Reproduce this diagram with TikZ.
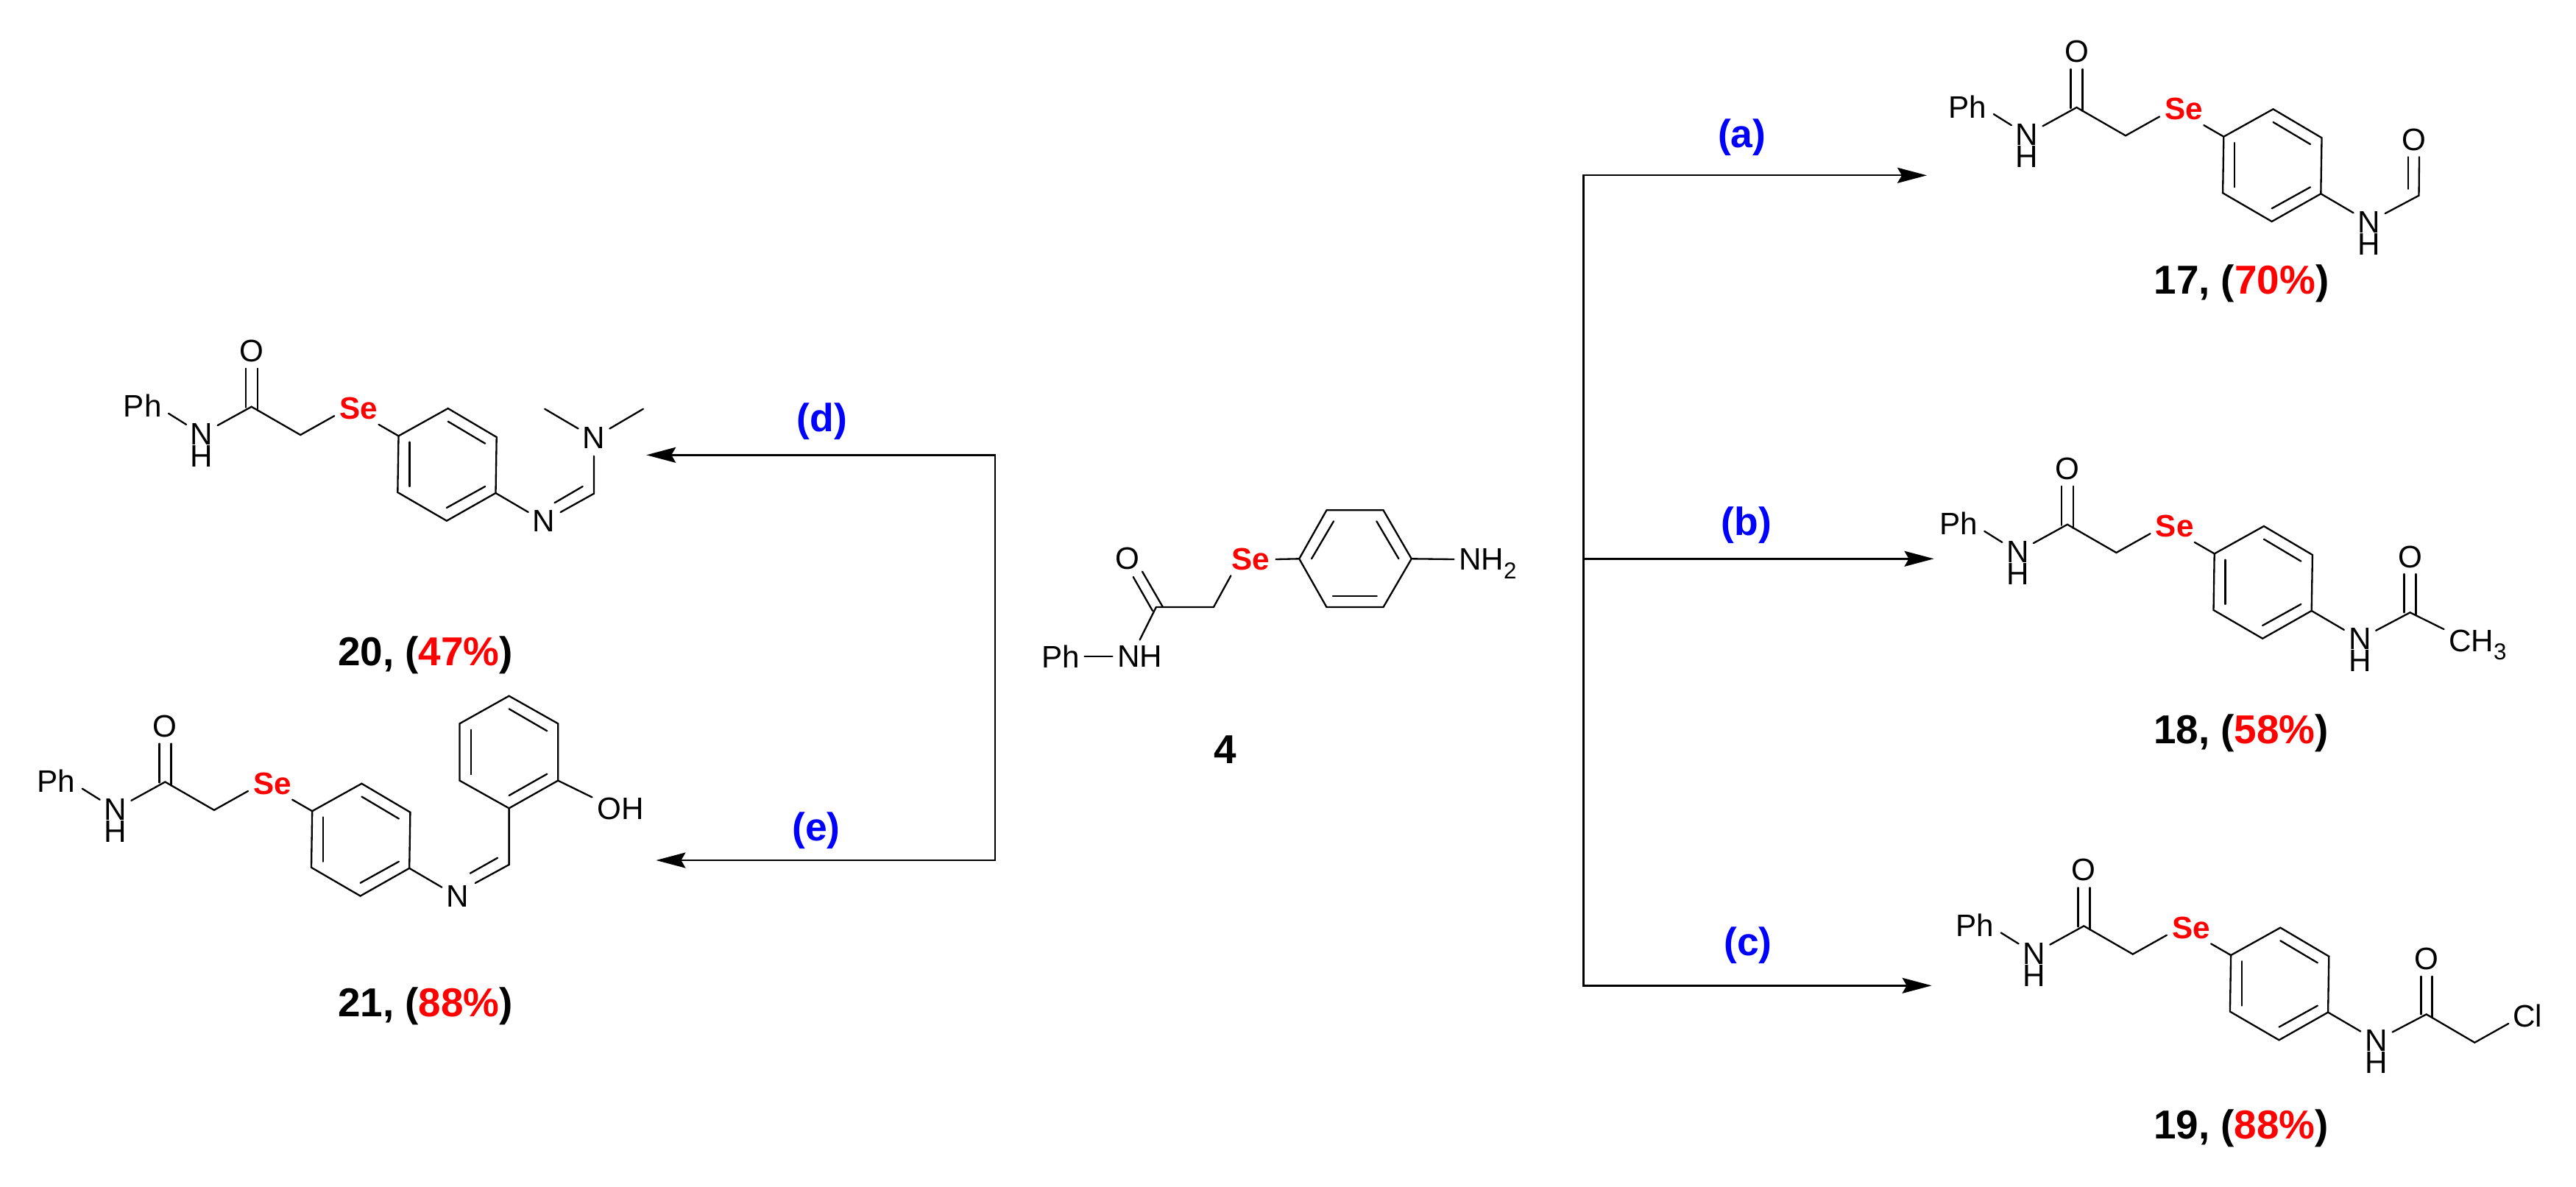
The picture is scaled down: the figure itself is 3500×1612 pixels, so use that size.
\documentclass[tikz,border=0pt]{standalone}
\usepackage{fontspec}
\setmainfont{Liberation Sans}
\usetikzlibrary{arrows.meta,calc}
\definecolor{sered}{RGB}{255,0,0}
\definecolor{labblue}{RGB}{0,0,255}
\newcommand\subsc[1]{\smash{\raisebox{-3.3pt}{\fontsize{8.9}{10}\selectfont #1}}}
\tikzset{
  bond/.style={line width=.66pt,line cap=round,line join=miter},
  rxn/.style={line width=.68pt,line join=miter,>={Stealth[length=.4cm,width=.21cm,inset=.06cm]}},
  atom/.style={circle,inner sep=0pt,minimum size=.48cm,font=\fontsize{12}{14}\selectfont},
  atomphw/.style={atom,minimum size=.72cm},
  atomse/.style={atom,minimum size=.68cm,text=sered,font=\fontsize{12}{14}\selectfont\bfseries},
  grp/.style={rectangle,inner ysep=0pt,inner xsep=.06cm,font=\fontsize{12}{14}\selectfont},
  caption/.style={anchor=base,inner sep=0pt,font=\fontsize{15.6}{18}\selectfont\bfseries},
  cond/.style={anchor=base,inner sep=0pt,text=labblue,font=\fontsize{15.2}{18}\selectfont\bfseries},
  backbone/.pic={
    \coordinate (c) at (0,0);
    \coordinate (ch) at (66.5,38.3);
    \coordinate (r1) at (199.8,39.7);
    \coordinate (r2) at (267,2.3);
    \coordinate (r3) at (333,41.3);
    \coordinate (r4) at (331.8,117.3);
    \coordinate (r5) at (265.2,155);
    \coordinate (r6) at (198.6,116.3);
    \coordinate (cl) at (-8,1);
    \coordinate (cr) at (8,5);
    \coordinate (ol) at (-8,-52);
    \coordinate (or) at (8,-52);
    \coordinate (ia) at (267,20);
    \coordinate (ib) at (317.5,50);
    \coordinate (ic) at (214.7,48);
    \coordinate (id) at (214.7,108.3);
    \coordinate (ie) at (317.5,108.3);
    \coordinate (if) at (265.2,137.3);
    \node[atom] (o) at (0,-76) {O};
    \node[atomphw] (ph) at (-148,-1) {Ph};
    \node[atom] (n) at (-67.7,37.3) {N};
    \node[atom] (h) at (-67.7,67.3) {H};
    \node[atomse] (se) at (145.8,2.3) {Se};
    \node[atom] (nn) at (397.3,155.7) {N};
    \draw[bond] (ph.-16) -- (n);
    \draw[bond] (n) -- (c) -- (ch) -- (se.197);
    \draw[bond] (se.-39) -- (r1);
    \draw[bond] (r1) -- (r2) -- (r3) -- (r4) -- (r5) -- (r6) -- cycle;
    \draw[bond] (cl) -- (ol);
    \draw[bond] (cr) -- (or);
    \draw[bond] (ia) -- (ib);
    \draw[bond] (ic) -- (id);
    \draw[bond] (ie) -- (if);
    \draw[bond] (r4) -- (nn);
  }
}
\begin{document}
\begin{tikzpicture}[x=.01cm,y=-.01cm]
\useasboundingbox (0,0) rectangle (3500,1612);

% ---------- compound 4 ----------
\coordinate (a1) at (1765.2,759.3);
\coordinate (a2) at (1802.4,693.3);
\coordinate (a3) at (1879.5,693.3);
\coordinate (a4) at (1917.8,759.3);
\coordinate (a5) at (1879.5,825);
\coordinate (a6) at (1802.4,825);
\coordinate (ai1) at (1812,708.3);
\coordinate (ai2) at (1782,759.3);
\coordinate (ai3) at (1870.3,708.3);
\coordinate (ai4) at (1900.4,759.3);
\coordinate (ai5) at (1811,809.7);
\coordinate (ai6) at (1870.8,809.7);
\coordinate (ach) at (1648.9,825);
\coordinate (ac) at (1570.8,825);
\coordinate (aol) at (1539.7,784);
\coordinate (aor) at (1552,776.7);
\coordinate (acl) at (1566,830);
\coordinate (acr) at (1580,825);
\node[atomse] (ase) at (1698.9,760) {Se};
\node[atom] (ao) at (1532,759.3) {O};
\node[grp] (aph) at (1441,891.7) {Ph};
\node[grp,inner ysep=.07cm] (anh) at (1548.6,891.7) {NH};
\node[grp,anchor=west] (anh2) at (1975.4,760) {NH\subsc{2}};
\node[caption] (lab4) at (1664.7,1037.7) {4};
\draw[bond] (a1) -- (a2) -- (a3) -- (a4) -- (a5) -- (a6) -- cycle;
\draw[bond] (ai1) -- (ai2);
\draw[bond] (ai3) -- (ai4);
\draw[bond] (ai5) -- (ai6);
\draw[bond] (ase.east) -- (a1);
\draw[bond] (ase.220) -- (ach) -- (ac) -- (anh.north);
\draw[bond] (acr) -- (aor);
\draw[bond] (acl) -- (aol);
\draw[bond] (aph.east) -- (anh.west);
\draw[bond] (a4) -- (anh2.west);

% ---------- compound 17 ----------
\pic (p) at (2821.5,146) {backbone};
\node[atom] (ph2) at (3218.8,331.7) {H};
\coordinate (pf) at (3286.5,265.7);
\coordinate (pfl) at (3272,256.7);
\coordinate (pfu) at (3272,213.3);
\coordinate (pfv) at (3287,213.3);
\node[atom] (pfo) at (3279.6,190) {O};
\draw[bond] (pnn) -- (pf) -- (pfv);
\draw[bond] (pfl) -- (pfu);
\node[caption] (lab17) at (3045.4,399.3) {17, (\textcolor{sered}{70\%})};

% ---------- compound 18 ----------
\pic (q) at (2808.9,712.7) {backbone};
\node[atom] (qh2) at (3206.2,898.4) {H};
\coordinate (qa) at (3274.5,832.3);
\coordinate (qal) at (3266.5,832.3);
\coordinate (qar) at (3282.5,836);
\coordinate (qau) at (3266.5,780);
\coordinate (qav) at (3282.5,780);
\node[atom] (qao) at (3274.5,756.7) {O};
\node[grp,anchor=west] (qme) at (3320.5,870.7) {CH\subsc{3}};
\draw[bond] (qnn) -- (qa) -- (qme.north west);
\draw[bond] (qal) -- (qau);
\draw[bond] (qar) -- (qav);
\node[caption] (lab18) at (3045,1010.3) {18, (\textcolor{sered}{58\%})};

% ---------- compound 19 ----------
\pic (s) at (2831.3,1258.3) {backbone};
\node[atom] (sh2) at (3228.6,1444) {H};
\coordinate (sa) at (3296.7,1378.3);
\coordinate (sb) at (3362.3,1416.7);
\coordinate (sal) at (3289.3,1378.3);
\coordinate (sar) at (3304.3,1382);
\coordinate (sau) at (3289.3,1326.7);
\coordinate (sav) at (3304.3,1326.7);
\node[atom] (sao) at (3296.7,1302.7) {O};
\node[atom,minimum size=.54cm] (scl) at (3434,1380.5) {Cl};
\draw[bond] (snn) -- (sa) -- (sb) -- (scl.202);
\draw[bond] (sal) -- (sau);
\draw[bond] (sar) -- (sav);
\node[caption] (lab19) at (3045,1547) {19, (\textcolor{sered}{88\%})};

% ---------- compound 20 ----------
\pic (t) at (341.7,552.7) {backbone};
\coordinate (tc) at (807,670.7);
\coordinate (tio) at (761.6,696);
\coordinate (tii) at (753.5,683.3);
\coordinate (tij) at (791.7,661);
\node[atom] (tn) at (807,595) {N};
\coordinate (tm1) at (740.2,555.7);
\coordinate (tm2) at (873.9,555.7);
\draw[bond] (tn) -- (tc) -- (tio);
\draw[bond] (tii) -- (tij);
\draw[bond] (tm1) -- (tn) -- (tm2);
\node[caption] (lab20) at (578,904.3) {20, (\textcolor{sered}{47\%})};

% ---------- compound 21 ----------
\pic (u) at (224.4,1062.5) {backbone};
\coordinate (ua) at (691.6,1098.3);
\coordinate (ub) at (758.2,1060.7);
\coordinate (uc) at (758.2,983.3);
\coordinate (ud) at (691.6,945.7);
\coordinate (ue) at (624.5,983.3);
\coordinate (uf) at (624.5,1060.7);
\coordinate (uch) at (691.6,1175);
\coordinate (uo) at (645.7,1200);
\coordinate (ui) at (638.8,1186.7);
\coordinate (uj) at (676.1,1165.7);
\coordinate (ui1) at (691.6,1081);
\coordinate (ui2) at (743.3,1051.7);
\coordinate (ui3) at (743.3,993.3);
\coordinate (ui4) at (691.6,963.3);
\coordinate (ui5) at (640,991.7);
\coordinate (ui6) at (640,1052.3);
\node[grp,anchor=west] (uoh) at (804.5,1099) {OH};
\draw[bond] (ua) -- (ub) -- (uc) -- (ud) -- (ue) -- (uf) -- cycle;
\draw[bond] (ui1) -- (ui2);
\draw[bond] (ui3) -- (ui4);
\draw[bond] (ui5) -- (ui6);
\draw[bond] (ub) -- (uoh.north west);
\draw[bond] (ua) -- (uch) -- (uo);
\draw[bond] (ui) -- (uj);
\node[caption] (lab21) at (578,1381) {21, (\textcolor{sered}{88\%})};

% ---------- reaction arrows ----------
\coordinate (ja) at (2151.4,238.3);
\coordinate (jb) at (2151.4,759.3);
\coordinate (jc) at (2151.4,1339.3);
\coordinate (ta) at (2618,238.3);
\coordinate (tb) at (2627.5,759.3);
\coordinate (tcc) at (2624.6,1339.3);
\coordinate (jd) at (1352,618.3);
\coordinate (je) at (1352,1169);
\coordinate (td) at (878.2,618.3);
\coordinate (te) at (891.4,1169);
\draw[rxn,<->] (ta) -- (ja) -- (jc) -- (tcc);
\draw[rxn,->] (jb) -- (tb);
\draw[rxn,<->] (td) -- (jd) -- (je) -- (te);
\node[cond] (ca) at (2366.7,200) {(a)};
\node[cond] (cb) at (2373,727) {(b)};
\node[cond] (cc) at (2375,1298.5) {(c)};
\node[cond] (cd) at (1116.7,586.5) {(d)};
\node[cond] (ce) at (1109,1142) {(e)};
\end{tikzpicture}
\end{document}
